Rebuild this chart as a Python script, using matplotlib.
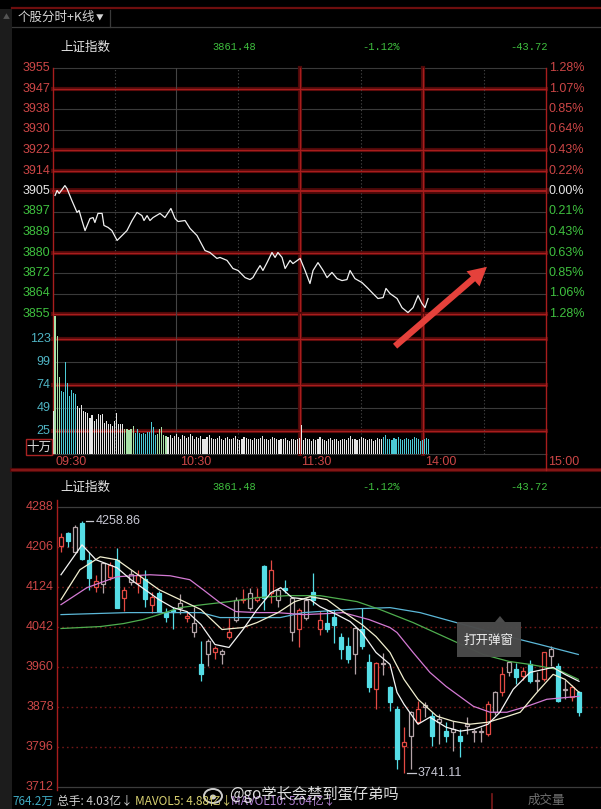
import matplotlib
matplotlib.use("Agg")
import matplotlib.pyplot as plt
from matplotlib.patches import Rectangle, FancyArrowPatch, Polygon, Ellipse

plt.rcParams['font.family'] = ['Noto Sans CJK SC', 'DejaVu Sans']

W, H = 601, 809
BG = '#000000'
RED_TXT = '#cc4646'
GREEN_TXT = '#3fc03f'
WHITE_TXT = '#e6e6e6'
NUM_FONT = ['Liberation Sans', 'DejaVu Sans']
MONO_FONT = ['Liberation Mono', 'DejaVu Sans Mono']

# ---------------- header quote ----------------
index_name = "上证指数"
last_price = "3861.48"
change_pct = "-1.12%"
change_pts = "-43.72"

# ---------------- intraday (分时) ----------------
prev_close = 3905.20
price_labels = ['3955', '3947', '3938', '3930', '3922', '3914', '3905',
                '3897', '3889', '3880', '3872', '3864', '3855']
pct_labels = ['1.28%', '1.07%', '0.85%', '0.64%', '0.43%', '0.22%', '0.00%',
              '0.21%', '0.43%', '0.63%', '0.85%', '1.06%', '1.28%']
price_red_lines = [1, 4, 5, 6, 9, 12]

intraday_min = [1, 2, 3, 4.4, 5.8, 6.8, 9.2, 11.7, 12.7, 14.1,
                15.6, 18, 19.5, 20.4, 21.9, 23.9, 24.8, 26.8, 28.7, 31.2,
                33.6, 36, 38.5, 40.9, 43.3, 44.3, 45.8, 47.2, 48.7, 52.1,
                54.5, 57.4, 59.4, 60.9, 64.3, 66.7, 70.1, 74, 76.4, 79.8,
                81.3, 84.7, 87.6, 90.1, 93.5, 95.9, 97.3, 99.3, 100.8, 102.2,
                104.2, 106.6, 108.1, 109.5, 111.5, 113, 115.4, 116.8, 120.3, 122.7,
                125.1, 126.6, 129, 131.5, 133.4, 135.8, 138.3, 140.7, 143.1, 144.6,
                147, 150.4, 152.9, 155.8, 158.2, 160.7, 162.1, 164.1, 167.5, 169.9,
                172.8, 175.3, 177.7, 179.6, 181.1, 182.6]
intraday_price = [3903.4, 3905.4, 3904.2, 3905.8, 3907.4, 3906.2, 3901.3, 3896.5, 3897.3, 3893.2,
                  3889.1, 3894.0, 3894.4, 3892.4, 3896.1, 3896.1, 3891.2, 3890.4, 3889.1, 3885.1,
                  3887.1, 3889.1, 3893.2, 3896.5, 3895.2, 3893.2, 3895.2, 3893.2, 3894.4, 3896.1,
                  3894.4, 3898.1, 3894.0, 3892.8, 3893.2, 3890.0, 3887.1, 3881.0, 3880.2, 3877.8,
                  3878.2, 3877.0, 3873.7, 3872.9, 3870.0, 3869.2, 3870.0, 3872.9, 3874.9, 3872.9,
                  3876.1, 3880.2, 3878.2, 3880.2, 3878.2, 3873.7, 3877.0, 3875.7, 3877.8, 3872.9,
                  3867.6, 3872.9, 3876.1, 3872.9, 3870.0, 3872.1, 3869.6, 3868.8, 3869.2, 3872.9,
                  3869.6, 3868.0, 3866.0, 3863.5, 3861.5, 3861.9, 3865.6, 3863.5, 3861.5, 3857.8,
                  3855.8, 3857.8, 3862.7, 3859.5, 3857.8, 3861.5]

# volume per minute, 十万手
volume = [46, 147, 126, 82, 68, 67, 98, 76, 62, 69,
          65, 64, 52, 49, 53, 46, 45, 44, 39, 42,
          36, 38, 43, 42, 43, 34, 36, 32, 32, 30,
          36, 44, 32, 32, 32, 27, 27, 26, 27, 30,
          23, 27, 23, 22, 23, 22, 24, 24, 35, 29,
          21, 22, 27, 29, 21, 20,
          19, 21, 18, 20, 22, 19, 17, 21, 20, 18, 19, 22, 20, 17, 19,
          18, 20, 17, 16, 19, 21, 18, 17, 16, 18, 20, 17, 15, 18, 19,
          17, 16, 18, 20, 17, 15, 16, 19, 18, 17, 16, 15, 18, 17, 16,
          18, 20, 17, 16, 15, 17, 19, 18, 16, 15, 17, 16, 18, 15, 14, 16, 17, 15, 16, 18,
          31,
          15, 18, 16, 17, 14, 16, 15, 17, 19, 16, 15, 14, 16, 18, 15, 17, 16, 14, 15, 17,
          16, 15, 18, 20, 17, 16, 15, 17, 19, 18, 16, 15, 17, 16, 14, 15, 18, 17, 16, 19,
          21, 17, 16, 15, 18, 17, 19, 16, 15, 17, 18, 16, 15, 17, 19, 18, 16, 14, 15, 17,
          18, 16]
volume_color_runs = [('w', 1), ('g', 3), ('c', 8), ('w', 23), ('g', 5), ('c', 11),
                     ('g', 5), ('w', 105), ('c', 23)]
vol_ticks = [123, 99, 74, 49, 25]
vol_labels = ['123', '99', '74', '49', '25']
vol_red_lines = [123, 74, 25]

time_labels = ['09:30', '10:30', '11:30', '14:00', '15:00']
time_label_min = [1, 62, 121, 181, 241]

# ---------------- daily K line ----------------
k_open = [4208, 4234.7, 4195.8, 4255, 4179, 4124, 4130.2, 4144.5, 4179, 4101.5,
          4134, 4132, 4140.4, 4087, 4112, 4071, 4071, 4081, 4060.5, 4050,
          3943.6, 3984.6, 3988.7, 3984.6, 4021.5, 4056.4, 4097.4, 4081, 4097.4, 4101.5,
          4158.9, 4097.4, 4118, 4101.5, 4036, 4060.5, 4097.4, 4056.4, 4038, 4062.5,
          4021.5, 4001, 3984.6, 4036, 3970, 3912.8, 3964, 3917, 3871.9, 3796,
          3816.5, 3845, 3876, 3857.5, 3845, 3826.8, 3825, 3816.5, 3837, 3825,
          3825, 3820.6, 3865.7, 3906.7, 3947.7, 3953.8, 3939.5, 3964, 3929.3, 3933.4,
          3980.5, 3960, 3910.8, 3896.5, 3906.7]
k_high = [4234.7, 4236.8, 4251, 4258.86, 4195.8, 4148.6, 4175, 4175, 4204, 4124,
          4159, 4159, 4159, 4113.8, 4116, 4081, 4083, 4109.6, 4073, 4083,
          4011.3, 4015.4, 4001, 3994.9, 4060.5, 4103.5, 4120, 4122, 4122, 4169,
          4179.4, 4122, 4138, 4103.5, 4081, 4101.5, 4152.7, 4073, 4076.9, 4076.9,
          4029.7, 4019.5, 4042, 4081, 3984.6, 3970, 3988, 3920, 3878, 3835,
          3867.7, 3888.3, 3886, 3865.7, 3862, 3845, 3847, 3831, 3855, 3831,
          3835, 3888, 3910, 3958, 3972, 3968, 3958, 3974, 3947.7, 3990,
          4001, 3968, 3933, 3921, 3909]
k_low = [4195.8, 4206, 4195, 4179, 4117.8, 4113.8, 4112, 4138, 4081, 4073,
         4128, 4112, 4083, 4070.7, 4071, 4052, 4036, 4067, 4052, 4021,
         3929.3, 3960, 3976, 3964, 4015.4, 4052, 4091, 4076.9, 4093, 4076.9,
         4091.2, 4083, 4112, 4011.3, 3999, 4056.4, 4087, 4025.6, 4031.7, 4009,
         3974.4, 3968, 3943.6, 3994.9, 3906.7, 3871.9, 3943, 3867.7, 3748.9, 3741.11,
         3748.9, 3841, 3855, 3796, 3800, 3804, 3786, 3773, 3821, 3804,
         3804, 3816.5, 3860, 3900, 3940, 3923, 3933, 3925, 3908.8, 3929,
         3960, 3886, 3892, 3888, 3857.5]
k_close = [4226.5, 4218.3, 4247, 4181.4, 4142.5, 4136.3, 4173.2, 4169, 4081, 4118,
           4150.7, 4148.6, 4099.4, 4103.5, 4071, 4062.5, 4077, 4091.2, 4064.6, 4031.7,
           3964, 4011.3, 3996.9, 3990.8, 4031.7, 4097.4, 4099.4, 4111.7, 4103.5, 4167,
           4111.7, 4118, 4122, 4031.7, 4076.9, 4097.4, 4113.8, 4036, 4050.2, 4046,
           3994.9, 3974.4, 4040, 4001, 3917, 3968, 3968, 3886, 3769.4, 3804,
           3865.7, 3871.9, 3880, 3816.5, 3851, 3816.5, 3831, 3806.3, 3841, 3827,
           3828, 3882, 3906.7, 3943.6, 3970, 3937.4, 3949.8, 3929.3, 3933, 3988.7,
           3994.9, 3888.3, 3912.8, 3917, 3865.7]
# r = red hollow, g = grey hollow, c = cyan solid
k_style = "rcgccrgrcrgrcrcccgrgcgrgrgrgrcrgcgrgcrccccgccrgccrgrgcgcgcggg" \
          "rgrgcrcgrgcgrc"

k_labels = ['4288', '4206', '4124', '4042', '3960', '3878', '3796', '3712']
k_high_mark = 4258.86
k_low_mark = 3741.11

ma5_idx = [0, 3, 5, 8, 10, 12, 14, 16, 18, 20, 22, 24, 26, 28, 30, 31.4, 33, 35.6, 37, 39.4,
           41.3, 43, 45, 47, 48, 49, 51, 52.7, 55, 57, 59, 61, 62.7, 64.6, 67, 70.3, 72, 74]
ma5_val = [4148.6, 4210.1, 4179.4, 4163, 4138.4, 4117.9, 4097.4, 4081, 4072.8, 4046.1,
           4005.1, 3999, 4035.9, 4076.9, 4111.7, 4122, 4101.5, 4097.4, 4083, 4066.6,
           4052.3, 4029.7, 3988.7, 3964.1, 3906.7, 3882.1, 3841.1, 3855.5, 3835, 3826.8,
           3830.9, 3841.1, 3865.7, 3912.9, 3947.7, 3958, 3943.6, 3929.3]
ma10_idx = [0, 2.7, 5.6, 8, 10, 12, 14, 17, 20, 23, 26, 28, 31, 33.4, 35.6, 38, 40.3, 43, 45, 47,
            49, 51, 53.7, 56, 58.4, 61, 63.4, 65.6, 68, 70.3, 72, 74]
ma10_val = [4097.4, 4158.9, 4185.5, 4179.4, 4158.9, 4138.4, 4117.9, 4097.4, 4076.9, 4035.9,
            4040, 4050.2, 4070.7, 4093.3, 4103.5, 4097.4, 4072.8, 4046.1, 4021.5, 3988.7,
            3933.4, 3892.4, 3857.5, 3847.3, 3841.1, 3845.2, 3855.5, 3865.7, 3906.7, 3943.6,
            3933.4, 3906.7]
ma20_idx = [0, 3.7, 8, 12.7, 15.6, 18.4, 20.3, 22.7, 25, 28, 30.9, 34.6, 38, 40.3, 44, 47, 48,
            50.3, 52.7, 55, 58.9, 61.3, 63.7, 66.6, 69.4, 74]
ma20_val = [4087.1, 4122, 4144.5, 4148.6, 4146.5, 4138.4, 4117.9, 4091.2, 4072.8, 4070.7,
            4070.7, 4066.6, 4068.7, 4070.7, 4056.4, 4040, 4029.7, 3988.7, 3947.7, 3919,
            3878, 3865.7, 3865.7, 3878, 3892.4, 3898.5]
ma30_idx = [0, 5.6, 8.9, 11.7, 14, 17, 20.3, 24, 28, 32.3, 37, 42.3, 45.6, 50.3, 55, 60.3,
            64, 67, 70.9, 73.9]
ma30_val = [4038, 4042, 4048.1, 4056.4, 4066.6, 4081, 4087.1, 4093.3, 4101.5, 4105.6,
            4105.6, 4093.3, 4076.9, 4050.2, 4019.5, 3984.6, 3970.3, 3964.1, 3953.9, 3933.4]
ma60_idx = [0, 9.4, 20, 22.7, 31.3, 34.6, 42.7, 47, 51.3, 57, 62.7, 68.4, 73.9]
ma60_val = [4066.6, 4070.7, 4070.7, 4060.5, 4060.5, 4070.7, 4078.9, 4081, 4070.7, 4048.1,
            4025.6, 4005.1, 3984.6]

bottom_items = [("764.2万", '#3ea8c0'), ("总手: 4.03亿↓", '#d0d0d0'),
                ("MAVOL5: 4.88亿↓", '#d8d070'), ("MAVOL10: 5.04亿↓", '#b080d0')]
watermark = "@go学长会禁到蛋仔弟吗"

# ---------------------------------------------------------------------------
fig = plt.figure(figsize=(W / 100, H / 100), dpi=100, facecolor=BG)


def px_axes(x0, y0, x1, y1):
    ax = fig.add_axes([x0 / W, 1 - y1 / H, (x1 - x0) / W, (y1 - y0) / H])
    ax.set_facecolor('none')
    for s in ax.spines.values():
        s.set_visible(False)
    ax.set_xticks([])
    ax.set_yticks([])
    return ax


def glow_h(ax, y, strong=False):
    ax.axhline(y, color='#4e0909', lw=4.2 if strong else 3.0, clip_on=False, zorder=1)
    ax.axhline(y, color='#a81d1d', lw=1.4 if strong else 1.0, clip_on=False, zorder=1.1)


def glow_v(ax, x):
    ax.axvline(x, color='#4e0909', lw=3.0, clip_on=False, zorder=1)
    ax.axvline(x, color='#a81d1d', lw=1.0, clip_on=False, zorder=1.1)


def gray_h(ax, y):
    ax.axhline(y, color='#3a3a3a', lw=0.8, clip_on=False, zorder=1)


# ---- intraday price panel ----
pax = px_axes(53, 68, 546, 314)
top = prev_close * 1.0128
bottom = prev_close * (1 - 0.0128)
pax.set_xlim(0, 240)
pax.set_ylim(bottom, top)
n_lvl = len(price_labels)
levels = [top - i * (top - bottom) / (n_lvl - 1) for i in range(n_lvl)]
for i, lv in enumerate(levels):
    if i in price_red_lines:
        glow_h(pax, lv, strong=(i == 6))
    else:
        gray_h(pax, lv)
    col = RED_TXT if i < 6 else (WHITE_TXT if i == 6 else GREEN_TXT)
    pax.text(-0.005, lv, price_labels[i], transform=pax.get_yaxis_transform(),
             ha='right', va='center', fontsize=9, color=col, family=NUM_FONT)
    pax.text(1.006, lv, pct_labels[i], transform=pax.get_yaxis_transform(),
             ha='left', va='center', fontsize=9, color=col, family=NUM_FONT)
pax.plot(intraday_min, intraday_price, color='#f2f2f2', lw=0.9, zorder=5)

# ---- intraday volume panel ----
vax = px_axes(53, 314, 546, 454.5)
vax.set_xlim(0, 240)
vax.set_ylim(0, 149.6)
for t, lab in zip(vol_ticks, vol_labels):
    if t in vol_red_lines:
        glow_h(vax, t)
    else:
        gray_h(vax, t)
    vax.text(-0.005, t, lab, transform=vax.get_yaxis_transform(), ha='right',
             va='center', fontsize=9, color='#4fb4c4', family=NUM_FONT)
gray_h(vax, 0)
vol_palette = {'w': '#e6e6e6', 'g': '#a8e0a8', 'c': '#4ccad6'}
vol_colors = []
for key, n in volume_color_runs:
    vol_colors += [vol_palette[key]] * n
vax.bar(range(len(volume)), volume, width=0.55, color=vol_colors[:len(volume)], zorder=3)
for m, lab in zip(time_label_min, time_labels):
    vax.text(m, -0.055, lab, transform=vax.get_xaxis_transform(), ha='left',
             va='center', fontsize=9, color=RED_TXT, family=NUM_FONT)

# vertical lines of the intraday panel
for ax in (pax, vax):
    for m, kind in zip([30, 60, 90, 120, 150, 180, 210],
                       ['dot', 'solid', 'dot', 'red', 'dot', 'red', 'dot']):
        if kind == 'red':
            glow_v(ax, m)
        elif kind == 'solid':
            ax.axvline(m, color='#444444', lw=0.8, zorder=1)
        else:
            ax.axvline(m, color='#4a4a4a', lw=0.8, ls=(0, (1, 2)), zorder=1)
    ax.axvline(0, color='#a81d1d', lw=1.0, clip_on=False)
    ax.axvline(240, color='#a81d1d', lw=1.0, clip_on=False)

# ---- daily K-line panel ----
kax = px_axes(57, 507, 601, 787)
kax.set_xlim(-4 / 7, 540 / 7)
k_top, k_bot = 4288.0, 3711.9
kax.set_ylim(k_bot, k_top)
n_k = len(k_labels)
for i in range(n_k):
    lv = k_top - i * (k_top - k_bot) / (n_k - 1)
    if i in (0, n_k - 1):
        kax.axhline(lv, color='#3c3c3c', lw=0.9, clip_on=False, zorder=1)
    else:
        kax.axhline(lv, color='#701818', lw=1.0, ls=(0, (1.2, 2.2)), zorder=1)
    kax.text(-0.006, lv, k_labels[i], transform=kax.get_yaxis_transform(),
             ha='right', va='center', fontsize=9, color=RED_TXT, family=NUM_FONT)

candle_palette = {'r': '#e44a44', 'g': '#b4a4a8', 'c': '#55dde6'}
bw = 0.62
for k in range(len(k_open)):
    o, hi, lo, c = k_open[k], k_high[k], k_low[k], k_close[k]
    st = k_style[k]
    col = candle_palette[st]
    b_top, b_bot = max(o, c), min(o, c)
    if b_top - b_bot < 2:
        b_top = b_bot + 2
    kax.vlines(k, b_top, hi, color=col, lw=0.9, zorder=3)
    kax.vlines(k, lo, b_bot, color=col, lw=0.9, zorder=3)
    kax.add_patch(Rectangle((k - bw / 2, b_bot), bw, b_top - b_bot,
                            facecolor=col if st == 'c' else BG,
                            edgecolor=col, lw=0.9, zorder=3))

for idx, val, col in [(ma60_idx, ma60_val, '#5cb8d8'), (ma30_idx, ma30_val, '#4fae4f'),
                      (ma20_idx, ma20_val, '#d47ad4'), (ma10_idx, ma10_val, '#f2f0d0'),
                      (ma5_idx, ma5_val, '#f4f4f4')]:
    kax.plot(idx, val, color=col, lw=0.9, zorder=4)

hi_k = k_high.index(k_high_mark)
lo_k = k_low.index(k_low_mark)
kax.plot([hi_k + 0.55, hi_k + 1.55], [k_high_mark] * 2, color='#c8c8d0', lw=0.9, zorder=5)
kax.text(hi_k + 1.95, k_high_mark, f"{k_high_mark:.2f}", va='center', ha='left',
         fontsize=9, color='#c8c8d4', family=NUM_FONT, zorder=5)
kax.plot([lo_k + 0.4, lo_k + 1.65], [k_low_mark] * 2, color='#c8c8d0', lw=0.9, zorder=5)
kax.text(lo_k + 1.95, k_low_mark, f"{k_low_mark:.2f}", va='center', ha='left',
         fontsize=9, color='#c8c8d4', family=NUM_FONT, zorder=5)

# ---- overlay: frame, headers, arrow, popup, watermark ----
ov = fig.add_axes([0, 0, 1, 1], zorder=10)
ov.set_xlim(0, W)
ov.set_ylim(H, 0)
ov.axis('off')
ov.patch.set_alpha(0)

ov.add_patch(Rectangle((0, 9), 12, H - 9, facecolor='#1c1c1c', lw=0))
ov.text(6, 17, "▲", ha='center', va='center', fontsize=5, color='#555555')
ov.plot([12, W], [8, 8], color='#6e0e0e', lw=1.6)
ov.plot([12, W], [27, 27], color='#3a3a3a', lw=0.9)
ov.plot([110, 110], [10, 27], color='#3a3a3a', lw=0.9)
ov.text(18, 17, "个股分时+K线", ha='left', va='center', fontsize=9, color='#d4d4d4')
ov.text(100, 18, "▼", ha='center', va='center', fontsize=5.5, color='#d4d4d4')

for y in (47, 487):
    ov.text(60, y, index_name, ha='left', va='center', fontsize=9, color=WHITE_TXT)
    ov.text(212, y, last_price, ha='left', va='center', fontsize=7.5,
            color=GREEN_TXT, family=MONO_FONT)
    ov.text(362, y, change_pct, ha='left', va='center', fontsize=7.5,
            color=GREEN_TXT, family=MONO_FONT)
    ov.text(510, y, change_pts, ha='left', va='center', fontsize=7.5,
            color=GREEN_TXT, family=MONO_FONT)

ov.plot([12, W], [470, 470], color='#4e0909', lw=3)
ov.plot([12, W], [470, 470], color='#8e1818', lw=1.2)
ov.plot([546, 546], [454, 470], color='#a81d1d', lw=1.0)
ov.plot([57, 57], [500, 790], color='#a81d1d', lw=1.0)

# 十万 unit box
ov.add_patch(Rectangle((26, 439), 26, 16, facecolor='none', edgecolor='#a82222', lw=1))
ov.text(39, 447, "十万", ha='center', va='center', fontsize=9, color='#d8d8d8')

# red arrow
ov.add_patch(FancyArrowPatch((393, 348), (489, 265),
                             arrowstyle='simple,head_length=1.2,head_width=1.3,tail_width=0.42',
                             mutation_scale=11, color='#e5413b', lw=0))

# popup tooltip
ov.add_patch(Rectangle((457, 622), 64, 35, facecolor='#4b4b4b', edgecolor='none', alpha=0.97))
ov.add_patch(Polygon([(495, 622), (500, 616), (505, 622)], closed=True,
                     facecolor='#4b4b4b', edgecolor='none'))
ov.text(489, 640, "打开弹窗", ha='center', va='center', fontsize=9, color='#f0f0f0')

# bottom status row
x_pos = [12, 57, 135, 231]
for (txt, col), x in zip(bottom_items, x_pos):
    ov.text(x, 801, txt, ha='left', va='center', fontsize=8.5, color=col)
ov.plot([492, 492], [794, H], color='#7a1a1a', lw=1.2)
ov.text(528, 800, "成交量", ha='left', va='center', fontsize=9, color='#8c8c8c', alpha=0.8)

# watermark
ov.add_patch(Ellipse((213, 796), 18, 14, facecolor='none', edgecolor='#f0f0f0', lw=1.4, alpha=0.85))
ov.add_patch(Ellipse((213, 797), 6, 5, facecolor='#f0f0f0', edgecolor='none', alpha=0.85))
ov.text(229, 794, watermark, ha='left', va='center', fontsize=11, color='#f4f4f4', alpha=0.9)

fig.savefig("out.png", dpi=100, facecolor=BG)
